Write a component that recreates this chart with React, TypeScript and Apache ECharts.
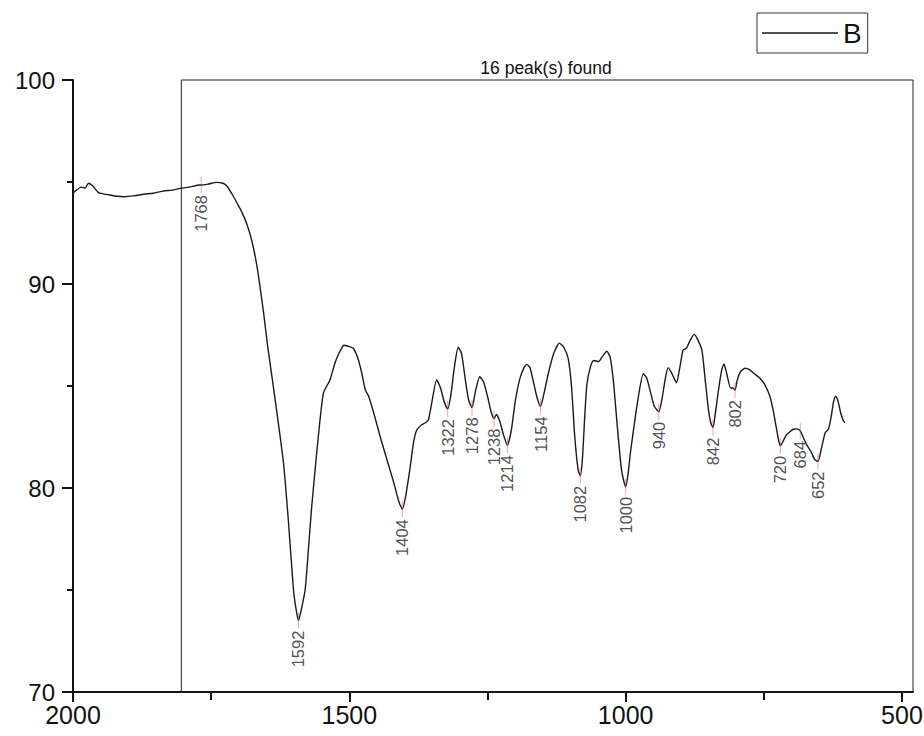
import React, { useEffect, useRef } from "react";
import * as echarts from "echarts";

// Spectrum: wavenumber (cm-1) and transmittance (%)
const wavenumbers = [
  2000, 1996, 1985, 1978, 1972, 1964, 1954, 1945, 1933, 1920, 1908, 1890, 1872, 1855, 1836, 1820, 1806, 1790, 1770, 1768,
  1755, 1740, 1730, 1722, 1712, 1703, 1694, 1685, 1676, 1667, 1655, 1648, 1640, 1630, 1619, 1610, 1601, 1596, 1592, 1588,
  1580, 1574, 1568, 1558, 1547, 1535, 1525, 1515, 1510, 1502, 1493, 1485, 1478, 1471, 1465, 1455, 1445, 1432, 1420, 1410,
  1404, 1398, 1390, 1384, 1378, 1369, 1362, 1357, 1350, 1342, 1335, 1328, 1322, 1316, 1310, 1303, 1297, 1290, 1284, 1278,
  1272, 1264, 1257, 1250, 1243, 1238, 1234, 1228, 1221, 1214, 1207, 1200, 1192, 1184, 1179, 1173, 1166, 1160, 1154, 1148,
  1140, 1130, 1120, 1112, 1104, 1098, 1092, 1086, 1082, 1078, 1074, 1070, 1064, 1058, 1049, 1042, 1034, 1028, 1022, 1015,
  1008, 1003, 1000, 996, 991, 986, 978, 968, 962, 955, 948, 940, 934, 928, 923, 916, 908, 902, 896, 890,
  884, 876, 870, 862, 856, 850, 846, 842, 838, 832, 826, 822, 817, 810, 806, 802, 798, 792, 784, 776,
  767, 757, 749, 739, 733, 727, 722, 720, 715, 709, 703, 697, 690, 684, 678, 672, 665, 658, 652, 646,
  639, 633, 628, 624, 620, 616, 611, 606, 603,
];
const transmittance = [
  94.45, 94.56, 94.75, 94.7, 94.94, 94.8, 94.48, 94.42, 94.36, 94.3, 94.28, 94.32, 94.4, 94.45, 94.56, 94.6, 94.69, 94.75, 94.85, 94.85,
  94.9, 94.98, 94.95, 94.82, 94.4, 93.96, 93.5, 92.9, 92.07, 90.85, 88.56, 87.0, 85.46, 83.5, 81.2, 78.3, 75.0, 74.0, 73.5, 73.9,
  75.0, 77.0, 79.1, 82.0, 84.64, 85.3, 86.2, 86.8, 87.0, 86.95, 86.85, 86.4, 85.7, 84.8, 84.5, 83.6, 82.6, 81.4, 80.3, 79.3,
  78.96, 79.6, 81.0, 82.2, 82.84, 83.1, 83.2, 83.33, 84.3, 85.3, 84.9, 84.2, 83.87, 84.6, 85.9, 86.9, 86.6, 85.3, 84.3, 83.95,
  84.7, 85.45, 85.2, 84.5, 83.7, 83.4, 83.6, 83.3, 82.6, 82.1, 82.8, 84.2, 85.3, 85.9, 86.06, 85.9, 85.1, 84.4, 84.0, 84.6,
  85.6, 86.6, 87.1, 86.9, 86.35, 85.0, 82.5, 80.9, 80.6, 81.5, 83.5, 85.1, 85.9, 86.25, 86.2, 86.45, 86.7, 86.4, 85.2, 83.0,
  81.0, 80.3, 80.06, 80.6, 81.8, 82.8, 84.3, 85.6, 85.4, 84.7, 84.0, 83.74, 84.4, 85.4, 85.9, 85.6, 85.16, 85.9, 86.76, 86.85,
  87.2, 87.53, 87.3, 86.76, 85.3, 83.8, 83.2, 82.96, 83.6, 84.8, 85.8, 86.08, 85.6, 84.9, 84.9, 84.8, 85.3, 85.7, 85.87, 85.8,
  85.6, 85.38, 85.1, 84.5, 83.8, 82.9, 82.2, 82.07, 82.3, 82.6, 82.75, 82.88, 82.9, 82.8, 82.45, 82.1, 81.8, 81.4, 81.3, 81.9,
  82.7, 82.88, 83.5, 84.2, 84.5, 84.3, 83.7, 83.3, 83.2,
];

// Peaks found by the peak finder
const peakPositions = [1768, 1592, 1404, 1322, 1278, 1238, 1214, 1154, 1082, 1000, 940, 842, 802, 720, 684, 652];
const peakValues = [94.85, 73.5, 78.96, 83.87, 83.95, 83.4, 82.1, 84.0, 80.6, 80.06, 83.74, 82.96, 84.8, 82.07, 82.8, 81.3];

// Axis ticks
const xMajorTicks = [2000, 1500, 1000, 500];
const xMinorTicks = [1750, 1250, 750];
const xRange = [480, 2000];
const yRange = [70, 100];
const searchBox = [1804, 480]; // wavenumber range of the peak-search region
const seriesName = "B";
const titleText = "16 peak(s) found";

const FONT = '"Liberation Sans", Arial, Helvetica, sans-serif';
const INK = "#111";

export default function App() {
  const ref = useRef<HTMLDivElement>(null);

  useEffect(() => {
    if (!ref.current) return;
    const chart = echarts.init(ref.current, undefined, { renderer: "svg" });

    const curve = wavenumbers.map((w, i) => [w, transmittance[i]]);
    const peaks = peakPositions.map((w, i) => [w, peakValues[i]]);

    const option: any = {
      animation: false,
      backgroundColor: "#ffffff",
      grid: { left: 73, right: 11, top: 80, bottom: 44, containLabel: false, outerBoundsMode: "none" },
      legend: {
        data: [{ name: seriesName, icon: "rect" }],
        left: 757,
        top: 13,
        padding: [5, 6, 5, 5],
        itemWidth: 76,
        itemHeight: 1.4,
        borderColor: "#333",
        borderWidth: 1,
        selectedMode: false,
        itemStyle: { color: "#1a1a1a" },
        textStyle: { fontSize: 28, fontFamily: FONT, color: INK, lineHeight: 30 },
      },
      graphic: [
        {
          type: "text",
          x: 546,
          y: 77,
          style: {
            text: titleText,
            fontSize: 17.5,
            fontFamily: FONT,
            fill: INK,
            align: "center",
            verticalAlign: "bottom",
          },
        },
      ],
      xAxis: [
        {
          type: "value",
          min: xRange[0],
          max: xRange[1],
          inverse: true,
          position: "bottom",
          axisLine: { show: true, onZero: false, lineStyle: { color: INK, width: 2 } },
          axisTick: { show: true, length: 10, lineStyle: { color: INK, width: 2 }, customValues: xMajorTicks },
          axisLabel: {
            customValues: xMajorTicks,
            formatter: (v: number) => String(v),
            fontSize: 25,
            fontFamily: FONT,
            color: INK,
            margin: 10,
          },
          splitLine: { show: false },
        },
        {
          type: "value",
          min: xRange[0],
          max: xRange[1],
          inverse: true,
          position: "bottom",
          axisLine: { show: false, onZero: false },
          axisTick: { show: true, length: 8, lineStyle: { color: INK, width: 2 }, customValues: xMinorTicks },
          axisLabel: { show: false },
          splitLine: { show: false },
        },
      ],
      yAxis: {
        type: "value",
        min: yRange[0],
        max: yRange[1],
        interval: 10,
        axisLine: { show: true, onZero: false, lineStyle: { color: INK, width: 2 } },
        axisTick: { show: true, length: 11, lineStyle: { color: INK, width: 2 } },
        minorTick: { show: true, splitNumber: 2, length: 6, lineStyle: { color: INK, width: 2 } },
        axisLabel: { fontSize: 24, fontFamily: FONT, color: INK, margin: 18, formatter: (v: number) => String(v) },
        splitLine: { show: false },
        minorSplitLine: { show: false },
      },
      series: [
        {
          name: seriesName,
          type: "line",
          data: curve,
          xAxisIndex: 0,
          symbol: "none",
          showSymbol: false,
          smooth: 0.2,
          clip: false,
          lineStyle: { color: "#1a1a1a", width: 1.4 },
          itemStyle: { color: "#1a1a1a" },
          markArea: {
            silent: true,
            itemStyle: { color: "rgba(0,0,0,0)", borderColor: "#222", borderWidth: 1 },
            data: [[{ xAxis: searchBox[0], yAxis: yRange[1] }, { xAxis: searchBox[1], yAxis: yRange[0] }]],
          },
        },
        {
          name: "peaks",
          type: "scatter",
          data: peaks,
          xAxisIndex: 0,
          symbol: "rect",
          symbolSize: [1, 16],
          itemStyle: { color: "rgba(230,90,90,0.7)" },
          z: 3,
          label: {
            show: true,
            formatter: (p: any) => String(p.value[0]),
            position: "bottom",
            distance: 2,
            rotate: 90,
            align: "right",
            verticalAlign: "middle",
            fontSize: 16.5,
            fontFamily: FONT,
            color: "#222",
          },
        },
      ],
    };

    chart.setOption(option);
    return () => chart.dispose();
  }, []);

  return <div ref={ref} style={{ position: "absolute", left: 0, top: 0, width: 924, height: 736 }} />;
}
